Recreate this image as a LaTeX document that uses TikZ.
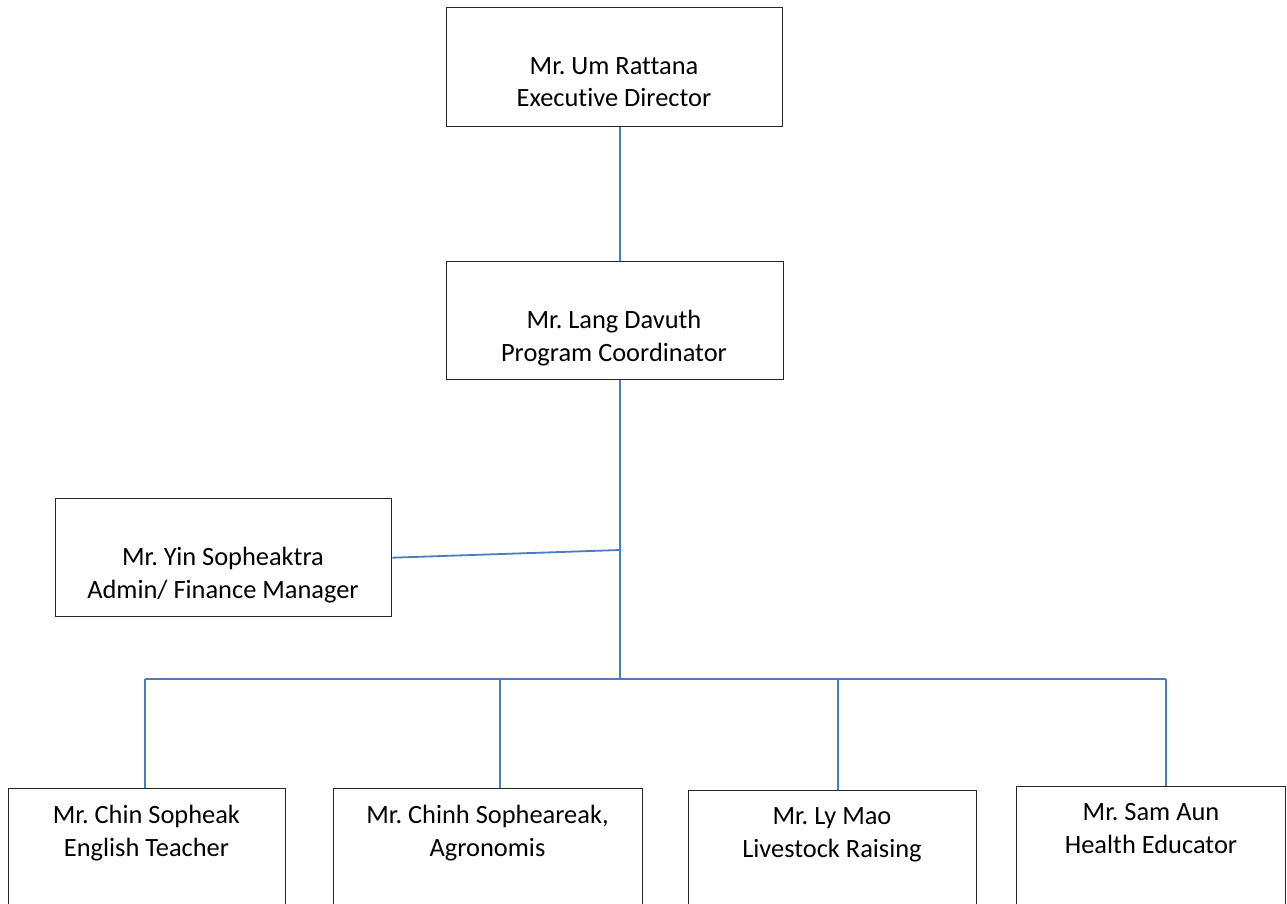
\documentclass[tikz,border=0pt]{standalone}
\usepackage{fontspec}
\setmainfont{Carlito}[Ligatures=NoCommon]
\frenchspacing
\definecolor{linkblue}{RGB}{74,126,187}
\definecolor{boxline}{RGB}{40,40,40}
\begin{document}
\begin{tikzpicture}[x=0.5pt,y=-0.5pt,
  orgbox/.style={draw=boxline, line width=0.7pt, rectangle, inner sep=0pt, anchor=north west},
  lbl/.style={anchor=base, align=center, inner sep=0pt, font=\fontsize{13.2}{16.2}\selectfont},
  link/.style={draw=linkblue, line width=0.9pt}]
\useasboundingbox (0,0) rectangle (1287,904);
% boxes
\node[orgbox, minimum width=168pt, minimum height=59.5pt] (top) at (446,7) {};
\node[orgbox, minimum width=168.5pt, minimum height=59pt] (coord) at (446,261) {};
\node[orgbox, minimum width=168pt, minimum height=59pt] (admin) at (55,498) {};
\node[orgbox, minimum width=138.5pt, minimum height=62pt] (b1) at (8,788) {};
\node[orgbox, minimum width=154.5pt, minimum height=62pt] (b2) at (333,788) {};
\node[orgbox, minimum width=144pt, minimum height=61pt] (b3) at (688,790) {};
\node[orgbox, minimum width=134.5pt, minimum height=63pt] (b4) at (1016,786) {};
% labels (anchor = baseline of last line)
\node[lbl] (t0) at (614,107) {Mr. Um Rattana\\Executive Director};
\node[lbl] (t1) at (614,361) {Mr. Lang Davuth\\Program Coordinator};
\node[lbl] (t2) at (223,598) {Mr. Yin Sopheaktra\\Admin/ Finance Manager};
\node[lbl] (t3) at (146.5,856) {Mr. Chin Sopheak\\English Teacher};
\node[lbl] (t4) at (487.5,856) {Mr. Chinh Sopheareak,\\Agronomis};
\node[lbl] (t5) at (832,857) {Mr. Ly Mao\\Livestock Raising};
\node[lbl] (t6) at (1151,853) {Mr. Sam Aun\\Health Educator};
% junctions
\coordinate (j1) at (620,550);
\coordinate (j2) at (620,679);
\coordinate (c1) at (145,679);
\coordinate (c2) at (500,679);
\coordinate (c3) at (838,679);
\coordinate (c4) at (1166,679);
% connectors
\draw[link] (top.south -| j1) -- (coord.north -| j1);
\draw[link] (coord.south -| j1) -- (j2);
\draw[link] (admin.east) -- (j1);
\draw[link] (c1) -- (c4);
\draw[link] (c1) -- (c1 |- b1.north);
\draw[link] (c2) -- (c2 |- b2.north);
\draw[link] (c3) -- (c3 |- b3.north);
\draw[link] (c4) -- (c4 |- b4.north);
\end{tikzpicture}
\end{document}
